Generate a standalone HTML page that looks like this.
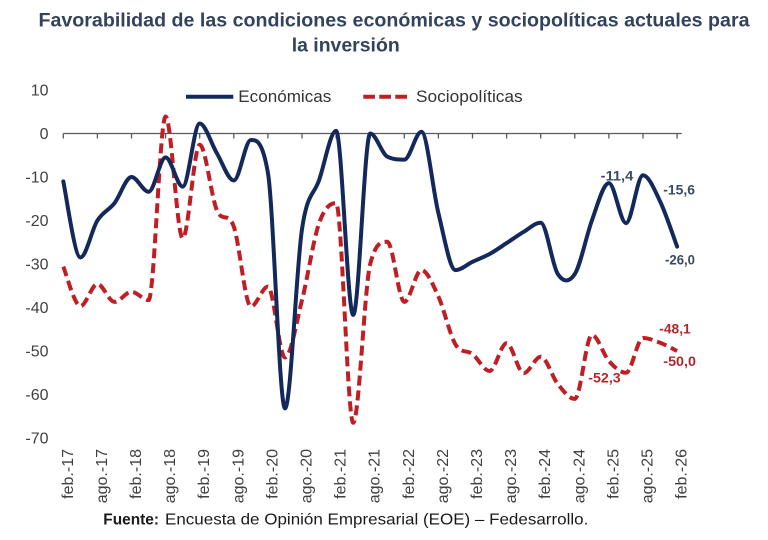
<!DOCTYPE html>
<html>
<head>
<meta charset="utf-8">
<style>
html,body{margin:0;padding:0;background:#ffffff;}
svg{display:block;}
</style>
</head>
<body>
<svg width="768" height="540" viewBox="0 0 768 540" xmlns="http://www.w3.org/2000/svg" font-family="'Liberation Sans', Arial, sans-serif">
<rect width="768" height="540" fill="#ffffff"/>

<!-- Title -->
<text x="38.5" y="26.7" font-size="19.5" font-weight="bold" fill="#33435c" textLength="711" lengthAdjust="spacingAndGlyphs">Favorabilidad de las condiciones económicas y sociopolíticas actuales para</text>
<text x="291.7" y="51.7" font-size="19.5" font-weight="bold" fill="#33435c" textLength="108" lengthAdjust="spacingAndGlyphs">la inversión</text>

<!-- Legend -->
<line x1="186" y1="96.7" x2="233.3" y2="96.7" stroke="#13295b" stroke-width="4"/>
<text x="238.3" y="102" font-size="16.5" fill="#333333" textLength="93" lengthAdjust="spacingAndGlyphs">Económicas</text>
<line x1="363.3" y1="96.7" x2="407" y2="96.7" stroke="#bf1e24" stroke-width="4" stroke-dasharray="11.7 4.3"/>
<text x="416" y="102" font-size="16.5" fill="#333333" textLength="106.7" lengthAdjust="spacingAndGlyphs">Sociopolíticas</text>

<!-- Y axis labels -->
<g font-size="16" fill="#404040" text-anchor="end">
<text x="48.5" y="95.7">10</text>
<text x="48.5" y="139.2">0</text>
<text x="48.5" y="182.7">-10</text>
<text x="48.5" y="226.2">-20</text>
<text x="48.5" y="269.7">-30</text>
<text x="48.5" y="313.2">-40</text>
<text x="48.5" y="356.7">-50</text>
<text x="48.5" y="400.2">-60</text>
<text x="48.5" y="443.7">-70</text>
</g>

<!-- X axis line and ticks -->
<line x1="63.3" y1="133.5" x2="681.7" y2="133.5" stroke="#595959" stroke-width="1.3"/>
<path d="M63.3,133.5v5 M97.4,133.5v5 M131.5,133.5v5 M165.6,133.5v5 M199.7,133.5v5 M233.8,133.5v5 M267.9,133.5v5 M302.0,133.5v5 M336.1,133.5v5 M370.2,133.5v5 M404.3,133.5v5 M438.4,133.5v5 M472.5,133.5v5 M506.6,133.5v5 M540.7,133.5v5 M574.8,133.5v5 M608.9,133.5v5 M643.0,133.5v5 M677.1,133.5v5" stroke="#595959" stroke-width="1.3" fill="none"/>

<!-- X axis labels -->
<g font-size="16" fill="#404040" text-anchor="end">
<text transform="translate(72.8,449) rotate(-90)">feb.-17</text>
<text transform="translate(106.9,449) rotate(-90)">ago.-17</text>
<text transform="translate(141.0,449) rotate(-90)">feb.-18</text>
<text transform="translate(175.1,449) rotate(-90)">ago.-18</text>
<text transform="translate(209.2,449) rotate(-90)">feb.-19</text>
<text transform="translate(243.3,449) rotate(-90)">ago.-19</text>
<text transform="translate(277.4,449) rotate(-90)">feb.-20</text>
<text transform="translate(311.5,449) rotate(-90)">ago.-20</text>
<text transform="translate(345.6,449) rotate(-90)">feb.-21</text>
<text transform="translate(379.7,449) rotate(-90)">ago.-21</text>
<text transform="translate(413.8,449) rotate(-90)">feb.-22</text>
<text transform="translate(447.9,449) rotate(-90)">ago.-22</text>
<text transform="translate(482.0,449) rotate(-90)">feb.-23</text>
<text transform="translate(516.1,449) rotate(-90)">ago.-23</text>
<text transform="translate(550.2,449) rotate(-90)">feb.-24</text>
<text transform="translate(584.3,449) rotate(-90)">ago.-24</text>
<text transform="translate(618.4,449) rotate(-90)">feb.-25</text>
<text transform="translate(652.5,449) rotate(-90)">ago.-25</text>
<text transform="translate(686.6,449) rotate(-90)">feb.-26</text>
</g>

<!-- Sociopolíticas series (red dashed) -->
<path d="M63.3,266.6 C66.1,273.2 74.7,306.2 80.4,306.2 C86.1,306.2 91.7,284.0 97.4,284.0 C103.1,284.0 108.8,301.9 114.5,301.9 C120.2,301.9 125.8,291.8 131.5,291.8 C137.2,291.8 142.9,300.1 148.6,300.1 C154.3,300.1 159.9,116.5 165.6,116.5 C171.3,116.5 177.0,238.3 182.7,238.3 C188.4,238.3 194.0,144.8 199.7,144.8 C205.4,144.8 211.1,196.4 216.8,210.1 C222.5,223.7 228.1,210.5 233.8,226.6 C239.5,242.7 245.2,306.6 250.9,306.6 C256.6,306.6 262.2,286.6 267.9,286.6 C273.6,286.6 279.3,357.5 285.0,357.5 C290.7,357.5 296.3,322.5 302.0,300.1 C307.7,277.7 313.4,239.3 319.1,223.1 C324.8,206.9 330.4,203.1 336.1,203.1 C341.8,203.1 347.5,422.8 353.2,422.8 C358.9,422.8 364.5,286.2 370.2,264.0 C375.9,241.8 381.6,241.8 387.3,241.8 C393.0,241.8 398.6,301.9 404.3,301.9 C410.0,301.9 415.7,270.1 421.4,270.1 C427.1,270.1 432.7,284.2 438.4,296.6 C444.1,309.0 449.8,334.9 455.5,344.5 C461.2,354.1 466.8,349.6 472.5,354.1 C478.2,358.5 483.9,371.0 489.6,371.0 C495.3,371.0 500.9,343.2 506.6,343.2 C512.3,343.2 518.0,373.2 523.7,373.2 C529.4,373.2 535.0,356.7 540.7,356.7 C546.4,356.7 552.1,377.0 557.8,384.1 C563.5,391.1 569.1,398.9 574.8,398.9 C580.5,398.9 586.2,334.9 591.9,334.9 C597.6,334.9 603.2,354.7 608.9,361.0 C614.6,367.3 620.3,372.8 626.0,372.8 C631.7,372.8 637.3,338.0 643.0,338.0 C648.7,338.0 654.4,340.6 660.1,342.7 C665.8,344.9 674.3,349.6 677.1,351.0" fill="none" stroke="#bf1e24" stroke-width="4" stroke-dasharray="10 5" stroke-linejoin="round"/>

<!-- Económicas series (navy solid) -->
<path d="M63.3,181.4 C66.1,194.0 74.7,257.5 80.4,257.5 C86.1,257.5 91.7,229.6 97.4,220.5 C103.1,211.4 108.8,210.4 114.5,203.1 C120.2,195.9 125.8,177.0 131.5,177.0 C137.2,177.0 142.9,191.8 148.6,191.8 C154.3,191.8 159.9,157.4 165.6,157.4 C171.3,157.4 177.0,186.6 182.7,186.6 C188.4,186.6 194.0,123.5 199.7,123.5 C205.4,123.5 211.1,143.6 216.8,153.1 C222.5,162.6 228.1,180.5 233.8,180.5 C239.5,180.5 245.2,140.0 250.9,140.0 C256.6,140.0 262.2,140.0 267.9,172.7 C273.6,205.3 279.3,408.4 285.0,408.4 C290.7,408.4 296.3,267.3 302.0,229.2 C307.7,191.1 313.4,196.4 319.1,180.1 C324.8,163.7 330.4,130.9 336.1,130.9 C341.8,130.9 347.5,314.9 353.2,314.9 C358.9,314.9 364.5,133.5 370.2,133.5 C375.9,133.5 381.6,153.5 387.3,156.6 C393.0,159.6 398.6,159.6 404.3,159.6 C410.0,159.6 415.7,131.8 421.4,131.8 C427.1,131.8 432.7,190.1 438.4,213.1 C444.1,236.2 449.8,270.1 455.5,270.1 C461.2,270.1 466.8,264.5 472.5,261.8 C478.2,259.2 483.9,257.1 489.6,254.0 C495.3,250.9 500.9,246.8 506.6,243.1 C512.3,239.4 518.0,235.2 523.7,231.8 C529.4,228.4 535.0,222.7 540.7,222.7 C546.4,222.7 552.1,265.3 557.8,274.0 C563.5,282.7 569.1,282.7 574.8,274.0 C580.5,265.3 586.2,236.2 591.9,220.5 C597.6,204.8 603.2,183.1 608.9,183.1 C614.6,183.1 620.3,223.1 626.0,223.1 C631.7,223.1 637.3,175.3 643.0,175.3 C648.7,175.3 654.4,189.5 660.1,201.4 C665.8,213.3 674.3,239.1 677.1,246.6" fill="none" stroke="#13295b" stroke-width="4" stroke-linejoin="round" stroke-linecap="round"/>

<!-- Data labels -->
<g font-size="14" font-weight="bold" fill="#3b4a63">
<text x="600.7" y="180.5" textLength="32.6" lengthAdjust="spacingAndGlyphs">-11,4</text>
<text x="663.3" y="194.5" textLength="31.7" lengthAdjust="spacingAndGlyphs">-15,6</text>
<text x="665" y="264.5" textLength="30" lengthAdjust="spacingAndGlyphs">-26,0</text>
</g>
<g font-size="14" font-weight="bold" fill="#b0282e">
<text x="659.3" y="333.5" textLength="31.4" lengthAdjust="spacingAndGlyphs">-48,1</text>
<text x="663.3" y="366" textLength="32.7" lengthAdjust="spacingAndGlyphs">-50,0</text>
<text x="588.3" y="382.7" textLength="32.4" lengthAdjust="spacingAndGlyphs">-52,3</text>
</g>

<!-- Footer -->
<text x="103.3" y="524.3" font-size="16" font-weight="bold" fill="#1a1a1a" textLength="55.7" lengthAdjust="spacingAndGlyphs">Fuente:</text>
<text x="165" y="524.3" font-size="16" fill="#1a1a1a" textLength="423.3" lengthAdjust="spacingAndGlyphs">Encuesta de Opinión Empresarial (EOE) – Fedesarrollo.</text>
</svg>
</body>
</html>
